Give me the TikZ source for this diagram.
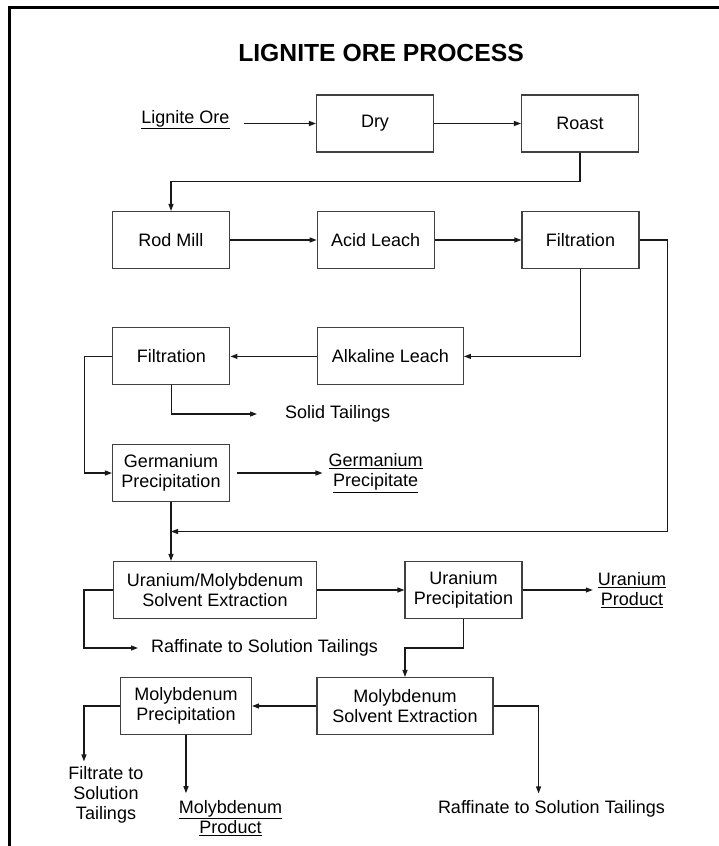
\documentclass[tikz,border=0pt]{standalone}
\usepackage{fontspec}
\setmainfont{Liberation Sans}
\usetikzlibrary{arrows.meta,calc}

\tikzset{
    procbox/.style = {draw = black!75, line width = 1.1pt, minimum width = 117pt, minimum height = 57pt, inner sep = 0pt, align = center, font = \fontsize{18}{20}\selectfont},
    outtext/.style = {inner sep = 0pt, align = center, font = \fontsize{18}{20}\selectfont},
    flow/.style = {draw = black!90, line width = 1.2pt, -{Triangle[length = 7pt, width = 5pt]}}
}

\begin{document}
\begin{tikzpicture}[x = 1pt, y = -1pt]
            \useasboundingbox (0,0) rectangle (719,846);
            \draw[line width = 3pt] (719,7) -- (9,7) -- (9,846);
            \node[font = \fontsize{24.7}{28}\selectfont\bfseries, anchor = base] (title) at (381,61) {LIGNITE ORE PROCESS};

            \node[outtext, anchor = base] (ore) at (185.5,123) {\underline{Lignite Ore}};
            \node[procbox] (dry) at (375,123.5) {Dry};
            \node[procbox] (roast) at (580,123.5) {Roast};
            \node[procbox] (rodmill) at (171,240) {Rod Mill};
            \node[procbox] (acid) at (375.7,240) {Acid Leach};
            \node[procbox] (filtone) at (580.5,240) {Filtration};
            \node[procbox, minimum width = 146pt] (alkaline) at (390.4,356.4) {Alkaline Leach};
            \node[procbox] (filttwo) at (171.4,356.4) {Filtration};
            \node[outtext, anchor = west] (solid) at (285,414) {Solid Tailings};
            \node[procbox] (germ) at (171,473) {Germanium\\Precipitation};
            \node[outtext] (gprecip) at (375.7,473) {\underline{Germanium}\\\underline{Precipitate}};
            \node[procbox, minimum width = 203pt] (umo) at (215,590) {Uranium/Molybdenum\\Solvent Extraction};
            \node[procbox] (uprecip) at (463.5,590) {Uranium\\Precipitation};
            \node[outtext] (uprod) at (632,590) {\underline{Uranium}\\\underline{Product}};
            \node[outtext, anchor = west] (raffone) at (151,648) {Raffinate to Solution Tailings};
            \node[procbox, minimum width = 176pt] (mosx) at (405,706) {Molybdenum\\Solvent Extraction};
            \node[procbox, minimum width = 131pt] (moprecip) at (186,706) {Molybdenum\\Precipitation};
            \node[outtext] (filtrate) at (106,795) {Filtrate to\\Solution\\Tailings};
            \node[outtext] (moprod) at (230.5,818) {\underline{Molybdenum}\\\underline{Product}};
            \node[outtext] (rafftwo) at (551.4,809) {Raffinate to Solution Tailings};

            % flows
            \draw[flow] ([xshift = 14pt]ore.east |- dry.west) -- (dry.west);
            \draw[flow] (dry.east) -- (roast.west);
            \draw[flow] (roast.south) -- ++(0,29) -| (rodmill.north);
            \draw[flow] (rodmill.east) -- (acid.west);
            \draw[flow] (acid.east) -- (filtone.west);
            \draw[flow] (filtone.south) |- (alkaline.east);
            \draw[flow] (alkaline.west) -- (filttwo.east);
            \draw[flow] (filttwo.west) -- ++(-28,0) |- (germ.west);
            \draw[flow] (filttwo.south) |- ([xshift = -28pt]solid.west);
            \coordinate (join) at ($(germ.south)!0.5!(germ.south |- umo.north)$);
            \draw[flow] (filtone.east) -- ++(28,0) |- (join);
            \draw[flow] ([xshift = 7pt]germ.east) -- ([xshift = -6pt]gprecip.west);
            \draw[flow] (germ.south) -- (germ.south |- umo.north);
            \draw[flow] (umo.east) -- (uprecip.west);
            \draw[flow] (uprecip.east) -- ([xshift = -5pt]uprod.west);
            \draw[flow] (umo.west) -- ++(-29,0) |- ([xshift = -13pt]raffone.west);
            \draw[flow] (uprecip.south) -- ++(0,29) -| (mosx.north);
            \draw[flow] (mosx.west) -- (moprecip.east);
            \draw[flow] (moprecip.west) -- ++(-36,0) coordinate (fcorner) -- ([yshift = 5pt]fcorner |- filtrate.north);
            \draw[flow] (moprecip.south) -- ([yshift = 7pt]moprecip.south |- moprod.north);
            \draw[flow] (mosx.east) -- ++(45,0) coordinate (rcorner) -- ([yshift = 7pt]rcorner |- rafftwo.north);
\end{tikzpicture}
\end{document}
